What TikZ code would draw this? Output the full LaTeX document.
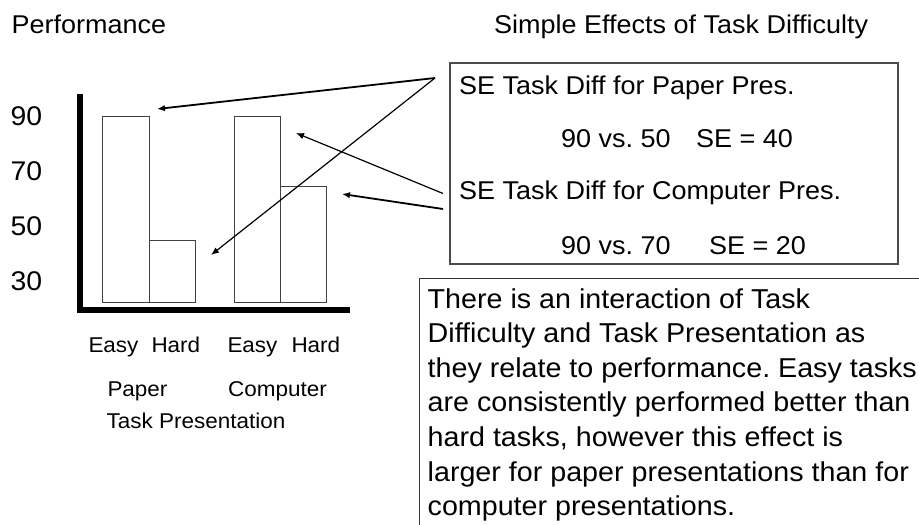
\documentclass[tikz,border=0pt]{standalone}
\usepackage{fontspec}
\setmainfont{Liberation Sans}[FakeStretch=1.05]
\usetikzlibrary{arrows.meta}
\frenchspacing
\newcommand{\fsz}[1]{\fontsize{#1}{#1}\selectfont}
\tikzset{
  txt/.style={inner sep=0pt, anchor=base west, font=\fsz{25.7}},
  axislbl/.style={txt, font=\fsz{27}},
  catlbl/.style={txt, font=\fsz{21.4}},
  bar/.style={draw=black!75, line width=1pt, fill=white},
  axisbar/.style={fill=black, draw=none},
  pointer/.style={-{Latex[length=8pt,width=6.5pt]}, line width=1.2pt},
  heavypointer/.style={pointer, line width=1.8pt},
  framebox/.style={draw=black!70, line width=1.3pt},
}
\begin{document}
\begin{tikzpicture}[x=1pt, y=-1pt]
\useasboundingbox[fill=white] (0,0) rectangle (919,525);

% headings
\node[txt] (perf) at (11.5,33) {Performance};
\node[txt] (title) at (494,33) {Simple Effects of Task Difficulty};

% value labels on the vertical axis
\node[axislbl] (y90) at (10.5,125) {90};
\node[axislbl] (y70) at (10.5,180) {70};
\node[axislbl] (y50) at (10.5,235) {50};
\node[axislbl] (y30) at (10.5,290) {30};

% bars
\draw[bar] (102.3,302.3) rectangle (149,116.7);
\draw[bar] (149,302.3) rectangle (195.3,240.3);
\draw[bar] (234,302.3) rectangle (280.3,116.7);
\draw[bar] (280.3,302.3) rectangle (326.7,186.3);

% axes
\fill[axisbar] (77.3,94) rectangle (83,312.5);
\fill[axisbar] (77.3,306.8) rectangle (350,312.5);

% category labels
\node[catlbl] (e1) at (88.3,352) {Easy};
\node[catlbl] (h1) at (151.3,352) {Hard};
\node[catlbl] (e2) at (227.3,352) {Easy};
\node[catlbl] (h2) at (291.3,352) {Hard};
\node[catlbl] (paper) at (107.3,396) {Paper};
\node[catlbl] (comp) at (228,396) {Computer};
\node[catlbl] (taskpres) at (106.5,428) {Task Presentation};

% simple effects box
\draw[framebox] (450,63) rectangle (898,264);
\node[txt] (se1) at (459,94) {SE Task Diff for Paper Pres.};
\node[txt] (se1v) at (561,147) {90 vs.\ 50\hspace{25.5pt}SE = 40};
\node[txt] (se2) at (459,199) {SE Task Diff for Computer Pres.};
\node[txt] (se2v) at (561,254) {90 vs.\ 70\hspace{38.5pt}SE = 20};

% interaction note
\draw[line width=1pt, draw=black!80] (419,530) -- (419,278.7) -- (925,278.7);
\node[inner sep=0pt, anchor=base west, font=\fontsize{27.3}{34.6}\selectfont]
  (note) at (427.5,308) {\parbox[t]{500pt}{\raggedright
There is an interaction of Task\\
Difficulty and Task Presentation as\\
they relate to performance. Easy tasks\\
are consistently performed better than\\
hard tasks, however this effect is\\
larger for paper presentations than for\\
computer presentations.}};

% pointers from the box to the bars
\coordinate (srcA) at (435,78);
\coordinate (srcB) at (443,193.5);
\coordinate (srcC) at (443,209);
\coordinate (tipPE) at (157,109);
\coordinate (tipPH) at (211,255);
\coordinate (tipCE) at (296,133);
\coordinate (tipCH) at (342,194);
\draw[heavypointer] (srcA) -- (tipPE);
\draw[pointer] (srcA) -- (tipPH);
\draw[pointer] (srcB) -- (tipCE);
\draw[heavypointer] (srcC) -- (tipCH);
\end{tikzpicture}
\end{document}
